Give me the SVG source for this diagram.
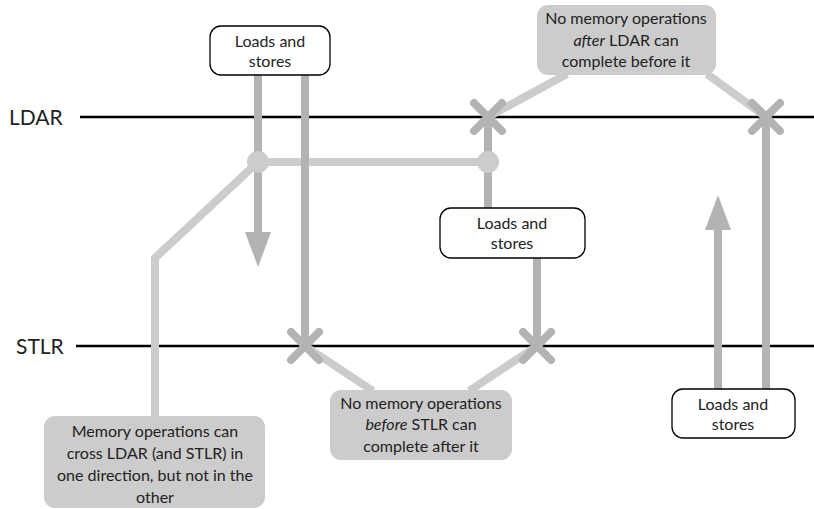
<svg xmlns="http://www.w3.org/2000/svg" width="814" height="509" viewBox="0 0 814 509">
  <style>
    text { font-family: Lato, "Open Sans", "DejaVu Sans", sans-serif; fill: #222; }
    .lbl { font-size: 16px; text-anchor: middle; }
    .axis { font-size: 21px; }
    .rule { stroke: #000; stroke-width: 2.5; fill: none; }
    .dark { stroke: #b3b3b3; stroke-width: 8; fill: none; }
    .light { stroke: #cccccc; stroke-width: 8; fill: none; stroke-linejoin: miter; }
    .xmark { stroke: #b3b3b3; stroke-width: 8; stroke-linecap: round; fill: none; }
    .box { fill: #fff; stroke: #000; stroke-width: 1.3; }
    .note { fill: #cccccc; }
    .dot { fill: #cccccc; }
    .head { fill: #b3b3b3; }
  </style>

  <!-- barrier lines -->
  <g id="ldar">
    <line class="rule" x1="80" y1="117" x2="814" y2="117"/>
    <text class="axis" x="9" y="125">LDAR</text>
  </g>
  <g id="stlr">
    <line class="rule" x1="76" y1="346" x2="814" y2="346"/>
    <text class="axis" x="16" y="354">STLR</text>
  </g>

  <g id="connectors">
    <!-- light annotation paths -->
    <polyline class="light" points="155,416 155,258 258,162"/>
    <line class="light" x1="258" y1="162" x2="488" y2="162"/>
    <line class="light" x1="567" y1="74" x2="488" y2="117"/>
    <line class="light" x1="707" y1="74" x2="766" y2="117"/>
    <line class="light" x1="305" y1="346" x2="373" y2="391"/>
    <line class="light" x1="537" y1="346" x2="469" y2="391"/>

    <!-- loads/stores paths -->
    <line class="dark" x1="258" y1="75" x2="258" y2="234"/>
    <polygon class="head" points="245,232 271,232 258,267"/>
    <line class="dark" x1="305" y1="75" x2="305" y2="346"/>
    <line class="dark" x1="488" y1="117" x2="488" y2="208"/>
    <line class="dark" x1="537" y1="258" x2="537" y2="346"/>
    <line class="dark" x1="766" y1="117" x2="766" y2="390"/>
    <line class="dark" x1="718" y1="390" x2="718" y2="228"/>
    <polygon class="head" points="705,230 731,230 718,195"/>

    <!-- junction dots -->
    <circle class="dot" cx="258" cy="162" r="11"/>
    <circle class="dot" cx="488" cy="162" r="11"/>

    <!-- blocked crossings -->
    <path class="xmark" d="M474,103 L502,131 M502,103 L474,131"/>
    <path class="xmark" d="M752,103 L780,131 M780,103 L752,131"/>
    <path class="xmark" d="M291,332 L319,360 M319,332 L291,360"/>
    <path class="xmark" d="M523,332 L551,360 M551,332 L523,360"/>
  </g>

  <g id="ls-top">
    <rect class="box" x="210" y="26" width="120" height="49" rx="11"/>
    <text class="lbl" x="270" y="47">Loads and</text>
    <text class="lbl" x="270" y="67">stores</text>
  </g>
  <g id="ls-mid">
    <rect class="box" x="440" y="208" width="145" height="50" rx="11"/>
    <text class="lbl" x="512" y="229">Loads and</text>
    <text class="lbl" x="512" y="249">stores</text>
  </g>
  <g id="ls-right">
    <rect class="box" x="672" y="389" width="123" height="49" rx="11"/>
    <text class="lbl" x="733" y="410">Loads and</text>
    <text class="lbl" x="733" y="430">stores</text>
  </g>

  <g id="note-ldar">
    <rect class="note" x="537" y="5" width="179" height="70" rx="11"/>
    <text class="lbl" x="626" y="24">No memory operations</text>
    <text class="lbl" x="626" y="46"><tspan font-style="italic">after</tspan> LDAR can</text>
    <text class="lbl" x="626" y="67">complete before it</text>
  </g>
  <g id="note-stlr">
    <rect class="note" x="330" y="390" width="182" height="70" rx="11"/>
    <text class="lbl" x="421" y="409">No memory operations</text>
    <text class="lbl" x="421" y="430"><tspan font-style="italic">before</tspan> STLR can</text>
    <text class="lbl" x="421" y="452">complete after it</text>
  </g>
  <g id="note-cross">
    <rect class="note" x="44" y="416" width="221" height="92" rx="11"/>
    <text class="lbl" x="155" y="437">Memory operations can</text>
    <text class="lbl" x="155" y="459">cross LDAR (and STLR) in</text>
    <text class="lbl" x="155" y="481">one direction, but not in the</text>
    <text class="lbl" x="155" y="503">other</text>
  </g>
</svg>
